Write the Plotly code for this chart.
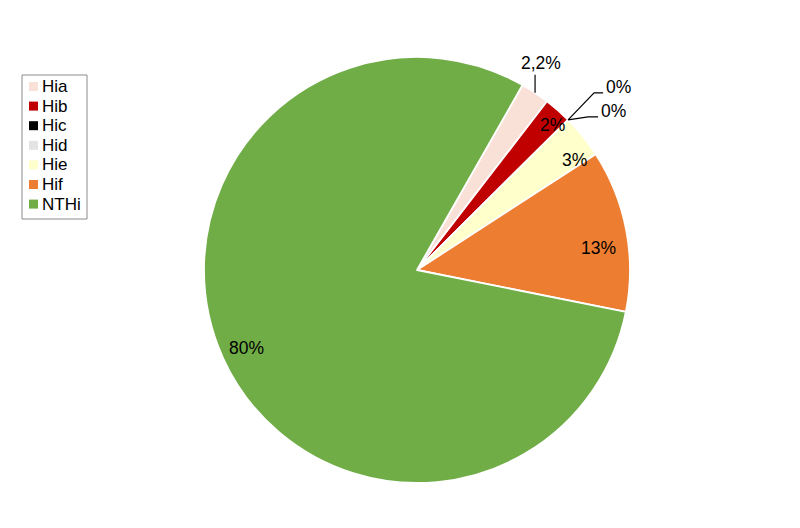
import math
import plotly.graph_objects as go

labels = ["Hia", "Hib", "Hic", "Hid", "Hie", "Hif", "NTHi"]
values = [2.2, 2.1, 0.0, 0.0, 3.3, 12.3, 80.1]
text_labels = ["2,2%", "2%", "0%", "0%", "3%", "13%", "80%"]
colors = ["#F9E1D8", "#C00000", "#000000", "#E3E3E3", "#FFFFCC", "#ED7D31", "#70AD47"]

W, H = 800, 528
OFF = 8                             # page body margin shifts the figure by 8px
CX, CY, R = 417, 270, 213          # pie centre / radius in screen pixels
START = 29.7                        # first slice starts ~30 deg clockwise from 12 o'clock
FONT = "Liberation Sans, Arial, sans-serif"
LABEL_SIZE = 17.5


def px_to_paper(x, y):
    return (x - OFF) / W, (H - (y - OFF)) / H


dx0, dy1 = px_to_paper(CX - R, CY - R)
dx1, dy0 = px_to_paper(CX + R, CY + R)

fig = go.Figure(go.Pie(
    labels=labels, values=values,
    textinfo="none",
    sort=False, direction="clockwise", rotation=START,
    marker=dict(colors=colors, line=dict(color="white", width=1.8)),
    domain=dict(x=[dx0, dx1], y=[dy0, dy1]),
    showlegend=False,
    hoverinfo="label+percent",
))

total = sum(values)
cum = 0.0
# inside labels sit near the rim (radius fraction, angle nudge in deg)
inside_pos = {1: (0.93, 1.6), 4: (0.90, 4.0), 5: (0.86, 3.8), 6: (0.88, 0.0)}
# outside labels get an elbow leader line:
# (elbow offset px, line-end offset px, text-centre offset px) relative to the rim point
outside = {
    0: ((0, -18), (0, -18), (6, -30)),
    2: ((26, -27), (35, -27), (50, -33)),
    3: ((20, -3), (30, -3), (45, -9)),
}
for i, (v, t) in enumerate(zip(values, text_labels)):
    a0 = START + 360.0 * cum / total
    cum += v
    a1 = START + 360.0 * cum / total
    mid_deg = (a0 + a1) / 2
    if i in outside:
        mid = math.radians(mid_deg)
        ex, ey = CX + R * math.sin(mid), CY - R * math.cos(mid)
        (e1x, e1y), (e2x, e2y), (tdx, tdy) = outside[i]
        pts = [px_to_paper(ex, ey), px_to_paper(ex + e1x, ey + e1y), px_to_paper(ex + e2x, ey + e2y)]
        path = "M {} {} L {} {} L {} {}".format(*[c for p in pts for c in p])
        fig.add_shape(type="path", xref="paper", yref="paper", path=path,
                      line=dict(color="black", width=1.2))
        tx, ty = px_to_paper(ex + tdx, ey + tdy)
        fig.add_annotation(x=tx, y=ty, xref="paper", yref="paper", text=t,
                           showarrow=False, xanchor="center", yanchor="middle",
                           font=dict(family=FONT, size=LABEL_SIZE, color="black"))
    else:
        f, nudge = inside_pos.get(i, (0.88, 0.0))
        mid = math.radians(mid_deg + nudge)
        lx, ly = CX + f * R * math.sin(mid), CY - f * R * math.cos(mid)
        px, py = px_to_paper(lx, ly)
        fig.add_annotation(x=px, y=py, xref="paper", yref="paper", text=t,
                           showarrow=False, xanchor="center", yanchor="middle",
                           font=dict(family=FONT, size=LABEL_SIZE, color="black"))

# legend (drawn from labels / colors)
LX0, LY0, LX1, LY1 = 22, 75, 87, 219
bx0, by1 = px_to_paper(LX0, LY0)
bx1, by0 = px_to_paper(LX1, LY1)
fig.add_shape(type="rect", xref="paper", yref="paper", x0=bx0, x1=bx1, y0=by0, y1=by1,
              line=dict(color="#8C8C8C", width=1), fillcolor="white")
row0, step = 86.5, 19.6
for i, (lab, col) in enumerate(zip(labels, colors)):
    yc = row0 + i * step
    sx0, sy1 = px_to_paper(29, yc - 4.5)
    sx1, sy0 = px_to_paper(38, yc + 4.5)
    fig.add_shape(type="rect", xref="paper", yref="paper", x0=sx0, x1=sx1, y0=sy0, y1=sy1,
                  line=dict(width=0), fillcolor=col)
    tx, ty = px_to_paper(40, yc)
    fig.add_annotation(x=tx, y=ty, xref="paper", yref="paper",
                       text=lab, showarrow=False, xanchor="left", yanchor="middle",
                       font=dict(family=FONT, size=17, color="black"))

fig.update_layout(
    width=W, height=H,
    margin=dict(l=0, r=0, t=0, b=0),
    paper_bgcolor="white",
)
fig.write_html("out.html")
